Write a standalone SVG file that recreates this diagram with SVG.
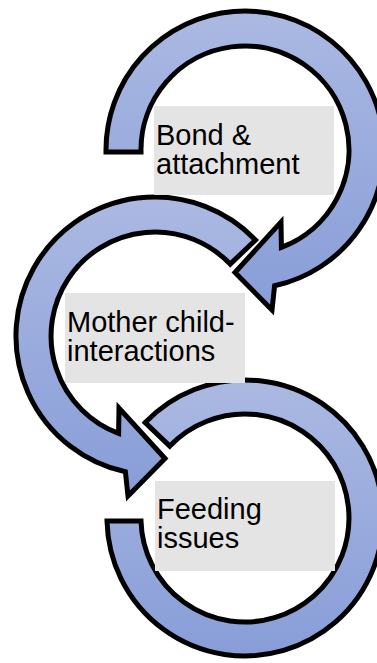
<svg xmlns="http://www.w3.org/2000/svg" width="377" height="663" viewBox="0 0 377 663">
<style>
.ring{stroke:#000;stroke-width:5;stroke-linejoin:miter;fill:url(#g)}
.box{fill:#e4e4e4}
.lbl{font-family:"Liberation Sans",Arial,sans-serif;font-size:29px;fill:#000}
</style>
<defs>
<linearGradient id="g" x1="0" y1="0" x2="0" y2="1">
<stop offset="0" stop-color="#abb9e2"/>
<stop offset="1" stop-color="#889dd8"/>
</linearGradient>
</defs>
<rect width="377" height="663" fill="#fff"/>
<g id="connectors"></g>
<g id="node-bond">
<path class="ring" d="M141,152 L106,152 A139 139 0 1 1 274.6,285.8 L272,310 L235,272.5 L281,222 L281.4,247.4 A104 104 0 1 0 141,152 Z"/>
</g>
<g id="node-mother">
<path class="ring" d="M230.2,264.1 L255.5,240 A139 139 0 1 0 125.4,471.8 L128,496 L165,458.5 L119,408 L118.6,433.4 A104 104 0 1 1 230.2,264.1 Z"/>
</g>
<g id="node-feeding">
<path class="ring" d="M169.8,446.1 L145.2,422.6 A138 138 0 1 1 107,521 L141,521 A104 104 0 1 0 169.8,446.1 Z"/>
</g>
<g id="label-bond">
<rect class="box" x="154" y="106" width="180" height="89"/>
<text class="lbl" x="156" y="145">Bond &amp;</text>
<text class="lbl" x="156" y="174">attachment</text>
</g>
<g id="label-mother">
<rect class="box" x="65" y="293" width="180" height="90"/>
<text class="lbl" x="67" y="332">Mother child-</text>
<text class="lbl" x="67" y="361">interactions</text>
</g>
<g id="label-feeding">
<rect class="box" x="155" y="481" width="180" height="90"/>
<text class="lbl" x="157" y="519">Feeding</text>
<text class="lbl" x="157" y="548">issues</text>
</g>
</svg>
